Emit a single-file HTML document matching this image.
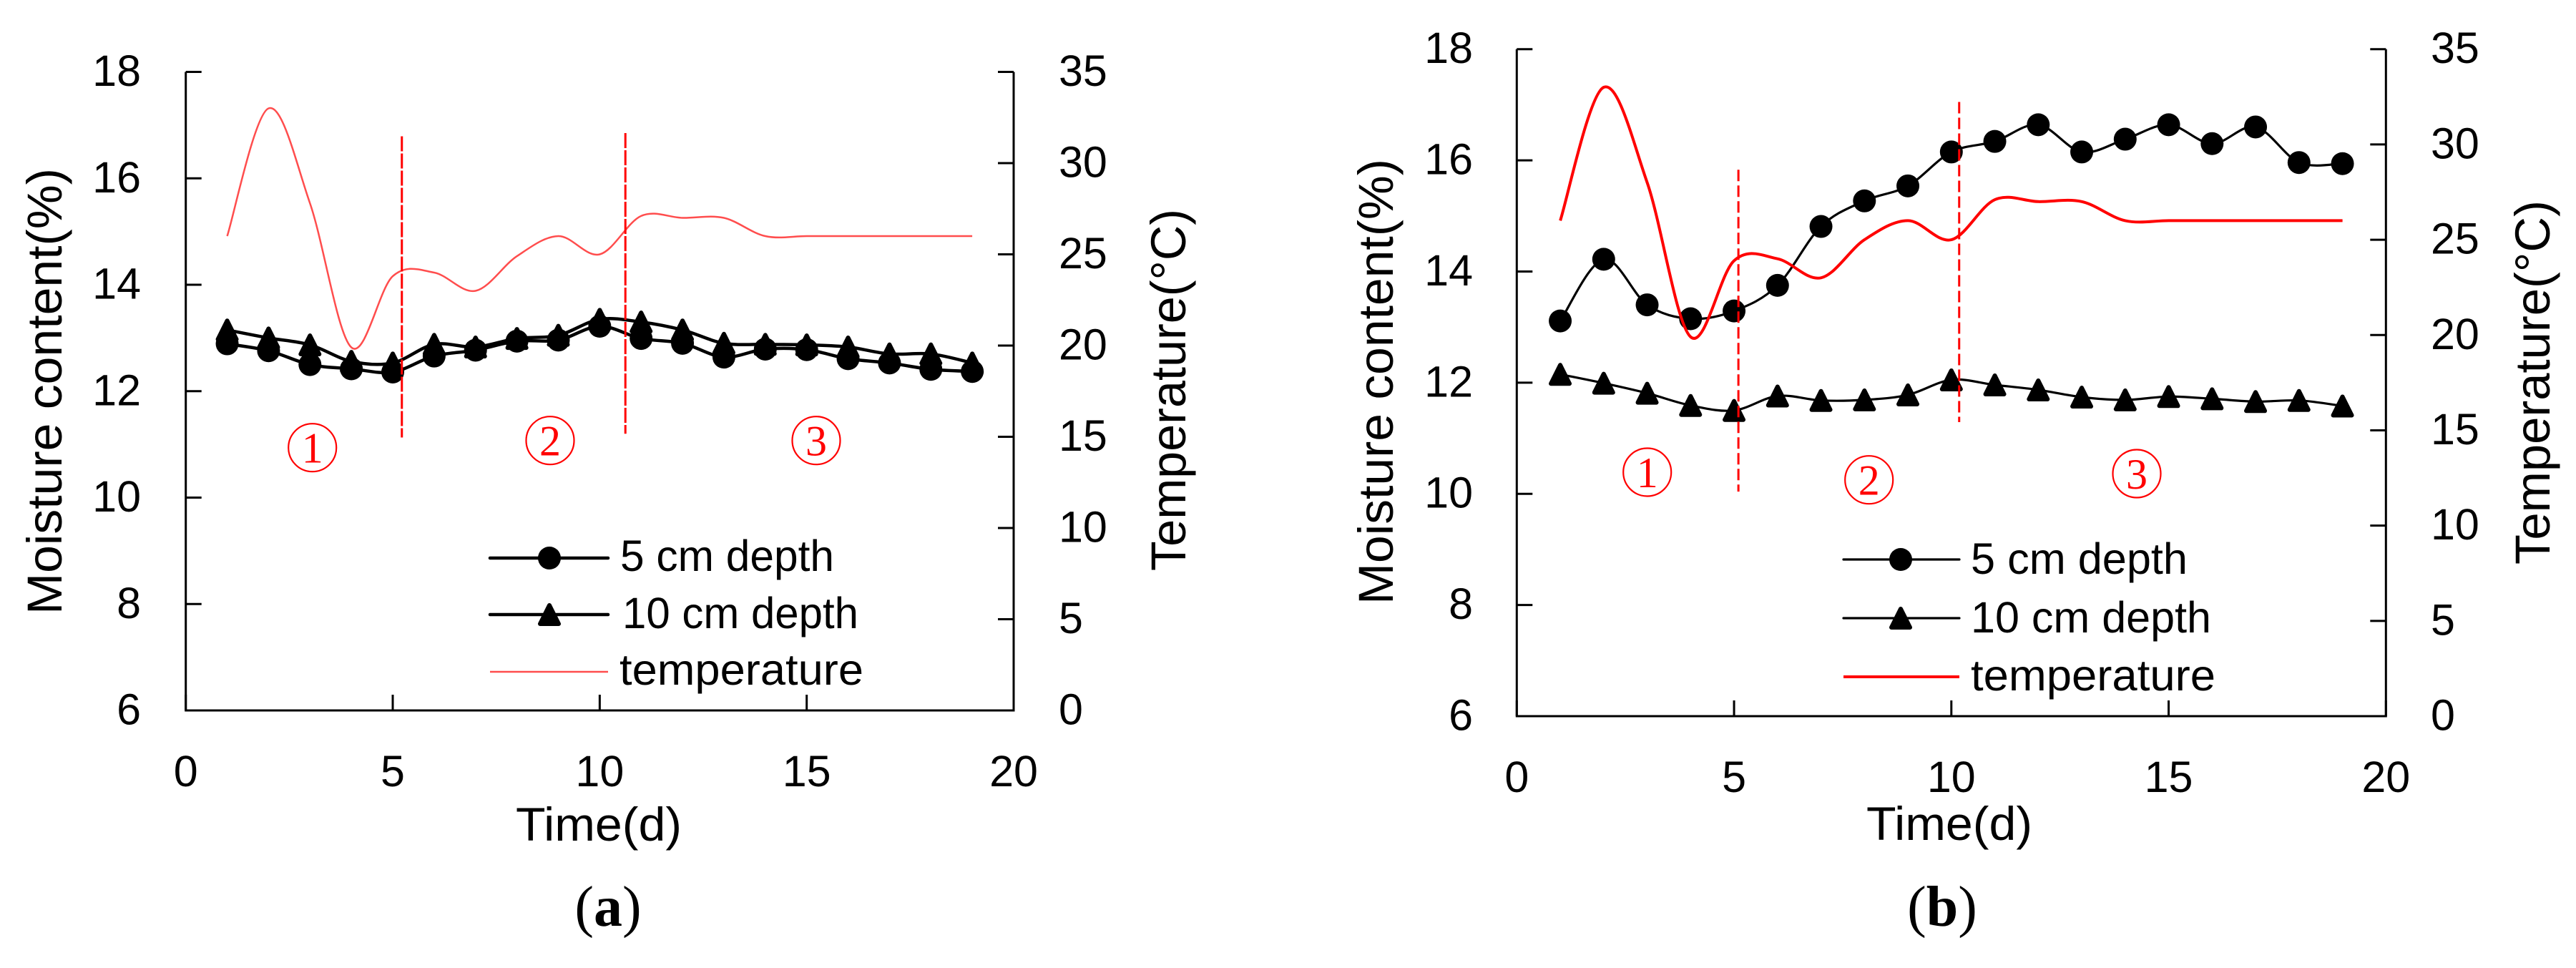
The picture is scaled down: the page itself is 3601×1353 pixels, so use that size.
<!DOCTYPE html>
<html lang="en">
<head>
<meta charset="utf-8">
<title>Moisture content and temperature over time</title>
<style>
html,body{margin:0;padding:0;background:#fff;width:3601px;height:1353px;overflow:hidden}
svg{display:block}
text{font-family:"Liberation Sans",sans-serif;fill:#000}
.tick{font-size:61px}
.title{font-size:69px}
.xtitle{font-size:66px}
.leg{font-size:61px}
.cap{font-family:"Liberation Serif",serif;font-size:80px}
.num{font-family:"Liberation Serif",serif;font-size:60px;fill:#f00}
</style>
</head>
<body>
<svg id="figure" xmlns="http://www.w3.org/2000/svg" width="3601" height="1353" viewBox="0 0 3601 1353">
<rect width="3601" height="1353" fill="#fff"/>

<g>
<text class="title" transform="translate(86,859) rotate(-90)" textLength="624" lengthAdjust="spacingAndGlyphs">Moisture content(%)</text>
<text class="title" transform="translate(1657,798) rotate(-90)" textLength="506" lengthAdjust="spacingAndGlyphs">Temperature(°C)</text>
<text class="xtitle" x="721" y="1175" textLength="232" lengthAdjust="spacingAndGlyphs">Time(d)</text>
<text class="cap" x="850" y="1294" text-anchor="middle">(<tspan font-weight="bold">a</tspan>)</text>
<text class="leg" x="867" y="798" textLength="299" lengthAdjust="spacingAndGlyphs">5 cm depth</text>
<text class="leg" x="870" y="878" textLength="330" lengthAdjust="spacingAndGlyphs">10 cm depth</text>
<text class="leg" x="866" y="957" textLength="341" lengthAdjust="spacingAndGlyphs">temperature</text>
<g><circle cx="436.7" cy="625.7" r="33.5" fill="none" stroke="#f00" stroke-width="2.2"/><text class="num" x="436.7" y="646.7" text-anchor="middle">1</text></g>
<g><circle cx="769" cy="615.7" r="33.5" fill="none" stroke="#f00" stroke-width="2.2"/><text class="num" x="769" y="636.7" text-anchor="middle">2</text></g>
<g><circle cx="1141" cy="615.7" r="33.5" fill="none" stroke="#f00" stroke-width="2.2"/><text class="num" x="1141" y="636.7" text-anchor="middle">3</text></g>
</g>

<g>
<text class="title" transform="translate(1947,845) rotate(-90)" textLength="623" lengthAdjust="spacingAndGlyphs">Moisture content(%)</text>
<text class="title" transform="translate(3564,789) rotate(-90)" textLength="509" lengthAdjust="spacingAndGlyphs">Temperature(°C)</text>
<text class="xtitle" x="2609" y="1174" textLength="232" lengthAdjust="spacingAndGlyphs">Time(d)</text>
<text class="cap" x="2715" y="1294" text-anchor="middle">(<tspan font-weight="bold">b</tspan>)</text>
<text class="leg" x="2755" y="802" textLength="303" lengthAdjust="spacingAndGlyphs">5 cm depth</text>
<text class="leg" x="2755" y="884" textLength="336" lengthAdjust="spacingAndGlyphs">10 cm depth</text>
<text class="leg" x="2755" y="965" textLength="342" lengthAdjust="spacingAndGlyphs">temperature</text>
<g><circle cx="2302.7" cy="660" r="33.5" fill="none" stroke="#f00" stroke-width="2.2"/><text class="num" x="2302.7" y="681" text-anchor="middle">1</text></g>
<g><circle cx="2612.7" cy="670.7" r="33.5" fill="none" stroke="#f00" stroke-width="2.2"/><text class="num" x="2612.7" y="691.7" text-anchor="middle">2</text></g>
<g><circle cx="2987" cy="662" r="33.5" fill="none" stroke="#f00" stroke-width="2.2"/><text class="num" x="2987" y="683" text-anchor="middle">3</text></g>
</g>
</svg>

<script>
// Chart data
var days = [1,2,3,4,5,6,7,8,9,10,11,12,13,14,15,16,17,18,19];
var xTickValues = [0,5,10,15,20];
var moistureTickValues = [6,8,10,12,14,16,18];
var temperatureTickValues = [0,5,10,15,20,25,30,35];

var panelAShallow = [12.89,12.76,12.5,12.42,12.36,12.66,12.77,12.94,12.96,13.22,12.99,12.9,12.64,12.79,12.78,12.61,12.53,12.41,12.37];
var panelADeep = [13.15,13.0,12.87,12.56,12.53,12.88,12.83,12.99,13.05,13.35,13.3,13.15,12.9,12.88,12.87,12.83,12.7,12.7,12.53];
var panelATemperature = [26,33,27.8,19.9,23.8,24,23,24.9,26,25,27.1,27,27,26,26,26,26,26,26];
var panelADividerDays = [5.22,10.62];
var panelADividerTop = [16.79,16.85];
var panelADividerBottom = [11.13,11.2];

var panelBShallow = [13.11,14.22,13.40,13.15,13.29,13.75,14.81,15.27,15.54,16.15,16.34,16.64,16.15,16.38,16.64,16.30,16.60,15.96,15.94];
var panelBDeep = [12.15,11.99,11.81,11.59,11.5,11.76,11.68,11.69,11.78,12.05,11.96,11.87,11.74,11.69,11.75,11.71,11.66,11.68,11.58];
var panelBTemperature = [26,33,28,19.9,23.9,24,23,25,26,25,27.1,27,27,26,26,26,26,26,26];
var panelBDividerDays = [5.1,10.18];
var panelBDividerTop = [15.83,17.05];
var panelBDividerBottom = [10.04,11.29];

var NS = 'http://www.w3.org/2000/svg';
var svg = document.getElementById('figure');

function make(tag, attrs, parent) {
  var el = document.createElementNS(NS, tag);
  for (var k in attrs) { el.setAttribute(k, attrs[k]); }
  parent.appendChild(el);
  return el;
}

function smoothPath(xs, ys) {
  var d = 'M' + xs[0].toFixed(1) + ' ' + ys[0].toFixed(1);
  var n = xs.length;
  for (var i = 0; i < n - 1; i++) {
    var a = Math.max(i - 1, 0), b = Math.min(i + 2, n - 1);
    var c1x = xs[i] + (xs[i + 1] - xs[a]) / 6, c1y = ys[i] + (ys[i + 1] - ys[a]) / 6;
    var c2x = xs[i + 1] - (xs[b] - xs[i]) / 6, c2y = ys[i + 1] - (ys[b] - ys[i]) / 6;
    d += 'C' + c1x.toFixed(1) + ' ' + c1y.toFixed(1) + ' ' + c2x.toFixed(1) + ' ' + c2y.toFixed(1) + ' ' + xs[i + 1].toFixed(1) + ' ' + ys[i + 1].toFixed(1);
  }
  return d;
}

function circleMarker(g, cx, cy) {
  return make('circle', {cx: cx, cy: cy, r: 16, fill: '#000'}, g);
}
function triangleMarker(g, cx, cy) {
  var pts = cx + ',' + (cy - 13) + ' ' + (cx + 13) + ',' + (cy + 13) + ' ' + (cx - 13) + ',' + (cy + 13);
  return make('polygon', {points: pts, fill: '#000', stroke: '#000', 'stroke-width': 6, 'stroke-linejoin': 'round'}, g);
}

function drawPanel(p) {
  var sx = function (v) { return p.left + (v / 20) * (p.right - p.left); };
  var sy = function (v) { return p.bottom - ((v - 6) / 12) * (p.bottom - p.top); };
  var st = function (v) { return p.bottom - (v / 35) * (p.bottom - p.top); };

  var axes = make('g', {stroke: '#000', 'stroke-width': 3, fill: 'none'}, svg);
  
  
  make('path', {d: 'M' + p.left + ' ' + p.top + 'V' + p.bottom + 'H' + p.right + 'V' + p.top}, axes);

  moistureTickValues.forEach(function (v) {
    var y = sy(v);
    make('line', {x1: p.left, x2: p.left + 22, y1: y, y2: y}, axes);
    var t = make('text', {x: p.leftLabelX, y: y + 19.5, 'text-anchor': 'end', 'class': 'tick'}, svg);
    
    
    t.textContent = v;
  });
  temperatureTickValues.forEach(function (v) {
    var y = st(v);
    make('line', {x1: p.right - 22, x2: p.right, y1: y, y2: y}, axes);
    var t = make('text', {x: p.rightLabelX, y: y + 19.5, 'class': 'tick'}, svg);
    
    
    t.textContent = v;
  });
  xTickValues.forEach(function (v) {
    var x = sx(v);
    make('line', {x1: x, x2: x, y1: p.bottom - 22, y2: p.bottom}, axes);
    var t = make('text', {x: x, y: p.xLabelY, 'text-anchor': 'middle', 'class': 'tick'}, svg);
    
    
    t.textContent = v;
  });

  var xs = days.map(sx);

  // deep series (triangles)
  var deepG = make('g', {}, svg);
  
  
  var dy = p.deep.map(sy);
  make('path', {d: smoothPath(xs, dy), fill: 'none', stroke: '#000', 'stroke-width': p.lineWidth}, deepG);
  dy.forEach(function (y, i) {
    var m = triangleMarker(deepG, xs[i], y);
    
    
  });

  // shallow series (circles)
  var shallowG = make('g', {}, svg);
  
  
  var hy = p.shallow.map(sy);
  make('path', {d: smoothPath(xs, hy), fill: 'none', stroke: '#000', 'stroke-width': p.lineWidth}, shallowG);
  hy.forEach(function (y, i) {
    var m = circleMarker(shallowG, xs[i], y);
    
    
  });

  // temperature series
  var temp = make('path', {d: smoothPath(xs, p.temperature.map(st)), fill: 'none', stroke: p.tempColor, 'stroke-width': p.tempWidth}, svg);
  
  

  // dividers
  p.dividerDays.forEach(function (d, i) {
    var l = make('line', {x1: sx(d), x2: sx(d), y1: sy(p.dividerTop[i]), y2: sy(p.dividerBottom[i]), stroke: '#f00', 'stroke-width': 3, 'stroke-dasharray': p.dash}, svg);
    
    
  });

  // legend keys
  var leg = make('g', {}, svg);
  
  
  make('line', {x1: p.legX1, x2: p.legX2, y1: p.legY[0], y2: p.legY[0], stroke: '#000', 'stroke-width': p.lineWidth, 'stroke-linecap': 'round'}, leg);
  circleMarker(leg, p.legMid, p.legY[0]);
  make('line', {x1: p.legX1, x2: p.legX2, y1: p.legY[1], y2: p.legY[1], stroke: '#000', 'stroke-width': p.lineWidth, 'stroke-linecap': 'round'}, leg);
  triangleMarker(leg, p.legMid, p.legY[1]);
  make('line', {x1: p.legX1, x2: p.legX2, y1: p.legY[2], y2: p.legY[2], stroke: p.tempColor, 'stroke-width': p.tempWidth}, leg);
}

drawPanel({
  id: 'panel-a', left: 259.7, right: 1417, top: 100.5, bottom: 993,
  leftLabelX: 197, rightLabelX: 1480, xLabelY: 1099,
  shallow: panelAShallow, deep: panelADeep, temperature: panelATemperature,
  dividerDays: panelADividerDays, dividerTop: panelADividerTop, dividerBottom: panelADividerBottom,
  tempColor: '#ff4d4d', tempWidth: 2.5, lineWidth: 4.5, dash: '21 3',
  legX1: 685, legX2: 850, legMid: 768, legY: [780, 859, 939]
});
drawPanel({
  id: 'panel-b', left: 2120.3, right: 3335.3, top: 68.7, bottom: 1001,
  leftLabelX: 2059, rightLabelX: 3398, xLabelY: 1107,
  shallow: panelBShallow, deep: panelBDeep, temperature: panelBTemperature,
  dividerDays: panelBDividerDays, dividerTop: panelBDividerTop, dividerBottom: panelBDividerBottom,
  tempColor: '#ff0000', tempWidth: 4, lineWidth: 3.2, dash: '16 6',
  legX1: 2577, legX2: 2739, legMid: 2657, legY: [782, 864, 946]
});
</script>
</body>
</html>
